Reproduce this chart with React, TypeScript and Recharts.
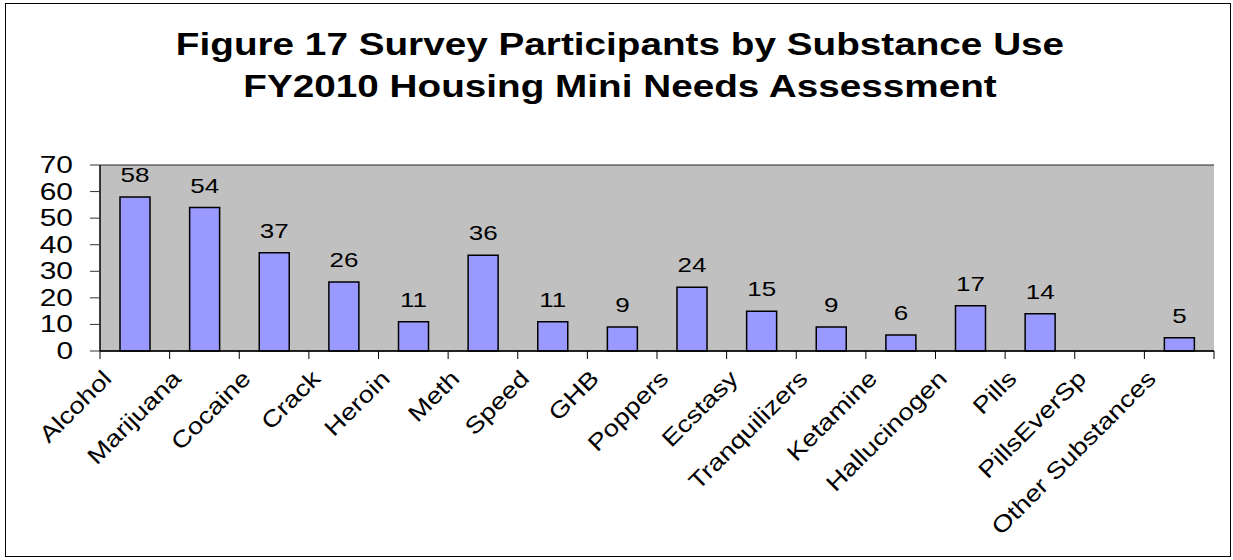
import { BarChart, Bar, XAxis, YAxis, CartesianGrid, LabelList } from 'recharts'

const categories = [
  'Alcohol', 'Marijuana', 'Cocaine', 'Crack', 'Heroin', 'Meth', 'Speed', 'GHB',
  'Poppers', 'Ecstasy', 'Tranquilizers', 'Ketamine', 'Hallucinogen', 'Pills',
  'PillsEverSp', 'Other Substances',
]
const counts = [58, 54, 37, 26, 11, 36, 11, 9, 24, 15, 9, 6, 17, 14, null, 5]
const yTicks = [0, 10, 20, 30, 40, 50, 60, 70]
const titleLines = [
  'Figure 17 Survey Participants by Substance Use',
  'FY2010 Housing Mini Needs Assessment',
]

const data = categories.map((name, i) => ({ name, value: counts[i] }))

const FONT = 'Arial, "Liberation Sans", sans-serif'
const WIDE = 1.3 // the source renders its text noticeably wide

function YTick({ x, y, payload }: any) {
  return (
    <text
      transform={`translate(${x},${y}) scale(${WIDE},1)`}
      dy={8}
      textAnchor="end"
      fontFamily={FONT}
      fontSize={23}
      fill="#000"
    >
      {payload.value}
    </text>
  )
}

function XTick({ x, y, payload, index }: any) {
  const half = payload.offset ?? 1114 / 32
  const axisY = y - 8
  return (
    <g>
      <line x1={x - half} x2={x - half} y1={axisY} y2={axisY + 8} stroke="#000" />
      {index === categories.length - 1 && (
        <line x1={x + half} x2={x + half} y1={axisY} y2={axisY + 8} stroke="#000" />
      )}
      <text
        transform={`translate(${x - 22},${axisY + 29}) rotate(-45) scale(1.2,1)`}
        textAnchor="end"
        fontFamily={FONT}
        fontSize={23}
        fill="#000"
      >
        {payload.value}
      </text>
    </g>
  )
}

function ValueLabel({ x, y, width, value }: any) {
  if (value == null) return null
  return (
    <text
      transform={`translate(${x + width / 2},${y - 15}) scale(${WIDE},1)`}
      textAnchor="middle"
      fontFamily={FONT}
      fontSize={20}
      fill="#000"
    >
      {value}
    </text>
  )
}

export default function App() {
  return (
    <div style={{ position: 'absolute', left: 0, top: 0, width: 1233, height: 560, background: '#fff' }}>
      <div
        style={{
          position: 'absolute', left: 5, top: 3, width: 1226, height: 554,
          border: '1px solid #000', boxSizing: 'border-box',
        }}
      />
      <svg width={1233} height={120} style={{ position: 'absolute', left: 0, top: 0 }}>
        {titleLines.map((t, i) => (
          <text
            key={t}
            transform={`translate(620,${55 + i * 42}) scale(1.21,1)`}
            textAnchor="middle"
            fontFamily={FONT}
            fontWeight="bold"
            fontSize={32}
            fill="#000"
          >
            {t}
          </text>
        ))}
      </svg>
      <div style={{ position: 'absolute', left: 0, top: 0 }}>
        <BarChart
          width={1233}
          height={560}
          data={data}
          margin={{ top: 165, right: 19, left: 0, bottom: 59 }}
          barSize={30}
        >
          <CartesianGrid vertical={false} fill="#C0C0C0" stroke="#222" />
          <XAxis
            dataKey="name"
            interval={0}
            height={150}
            tickLine={false}
            tickSize={8}
            tickMargin={0}
            axisLine={{ stroke: '#000', strokeWidth: 1.5 }}
            tick={<XTick />}
          />
          <YAxis
            yAxisId="left"
            domain={[0, 70]}
            ticks={yTicks}
            width={100}
            tickSize={10}
            tickMargin={17}
            interval={0}
            axisLine={{ stroke: '#000', strokeWidth: 1.5 }}
            tickLine={{ stroke: '#333' }}
            tick={<YTick />}
          />
          <YAxis
            yAxisId="right"
            orientation="right"
            domain={[0, 70]}
            width={0}
            tick={false}
            tickLine={false}
            axisLine={{ stroke: '#808080' }}
          />
          <Bar
            yAxisId="left"
            dataKey="value"
            fill="#9999FF"
            stroke="#000"
            strokeWidth={1.5}
            isAnimationActive={false}
          >
            <LabelList dataKey="value" content={<ValueLabel />} />
          </Bar>
        </BarChart>
      </div>
    </div>
  )
}
